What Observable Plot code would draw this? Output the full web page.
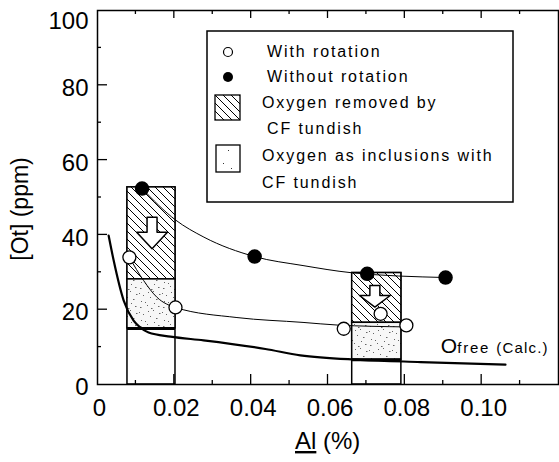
<!DOCTYPE html>
<html><head><meta charset="utf-8">
<script src="https://cdn.jsdelivr.net/npm/d3@7"></script>
<script src="https://cdn.jsdelivr.net/npm/@observablehq/plot@0.6"></script>
<style>
html,body{margin:0;padding:0;background:#fff;}
#chart svg{font-family:"Liberation Sans",Arial,sans-serif;background:#fff;}
</style></head><body><div id="chart"></div>
<script>
// ---- axes ----
const xTicks = [0, 0.02, 0.04, 0.06, 0.08, 0.10];
const xTickLabels = ["0", "0.02", "0.04", "0.06", "0.08", "0.10"];
const xMinorTicks = [0.01, 0.03, 0.05, 0.07, 0.09, 0.11];
const yTicks = [0, 20, 40, 60, 80, 100];
const yMinorTicks = [10, 30, 50, 70, 90];

// ---- measured points ----
const withRotAl = [0.0083, 0.0203, 0.0641, 0.0737, 0.0804];
const withRotOt = [34.0, 20.6, 14.9, 18.9, 15.8];
const withoutRotAl = [0.0116, 0.0409, 0.0702, 0.0906];
const withoutRotOt = [52.4, 34.2, 29.6, 28.6];

// ---- fitted curves ----
const withFitAl = [0.0083, 0.012, 0.0155, 0.0203, 0.0363, 0.0535, 0.0624, 0.0804];
const withFitOt = [34.0, 27.8, 23.3, 20.6, 17.9, 16.6, 15.9, 15.4];
const withoutFitAl = [0.0116, 0.0203, 0.0277, 0.0409, 0.0535, 0.066, 0.0906];
const withoutFitOt = [52.4, 44.0, 39.4, 34.2, 31.8, 29.9, 28.6];
const ofreeAl = [0.0029, 0.0042, 0.0068, 0.0094, 0.0112, 0.0133, 0.019, 0.0276, 0.0437, 0.0528, 0.0684, 0.0841, 0.1062];
const ofreeOt = [39.8, 33.2, 22.5, 17.1, 15.2, 13.9, 12.8, 11.8, 9.5, 7.8, 6.6, 6.0, 5.3];

// ---- CF tundish bars ----
const barAlFrom = [0.0078, 0.0663];
const barAlTo = [0.0203, 0.0791];
const barTotal = [52.7, 29.8];     // without CF tundish top
const barWithCF = [28.1, 16.5];    // boundary hatched / dotted
const barFree = [15.0, 6.6];       // dissolved oxygen level

// ---- arrows (data units) ----
const arrowAl = [0.0142, 0.0722];
const arrowTop = [44.7, 26.5];
const arrowNeck = [40.7, 23.8];
const arrowTip = [36.3, 20.7];
const arrowShaftHalf = 0.0013;
const arrowHeadHalf = 0.004;

const ofreeLabelAl = 0.0895, ofreeLabelOt = 8.3;

// ---- tables ----
const withRot = withRotAl.map((a, i) => ({al: a, ot: withRotOt[i]}));
const withoutRot = withoutRotAl.map((a, i) => ({al: a, ot: withoutRotOt[i]}));
const withFit = withFitAl.map((a, i) => ({al: a, ot: withFitOt[i]}));
const withoutFit = withoutFitAl.map((a, i) => ({al: a, ot: withoutFitOt[i]}));
const ofree = ofreeAl.map((a, i) => ({al: a, ot: ofreeOt[i]}));
const bars = barAlFrom.map((a, i) => ({x1: a, x2: barAlTo[i], top: barTotal[i], mid: barWithCF[i], free: barFree[i]}));
const arrows = [];
arrowAl.forEach((c, i) => {
  const s = arrowShaftHalf, h = arrowHeadHalf;
  [[c - s, arrowTop[i]], [c + s, arrowTop[i]], [c + s, arrowNeck[i]], [c + h, arrowNeck[i]],
   [c, arrowTip[i]], [c - h, arrowNeck[i]], [c - s, arrowNeck[i]], [c - s, arrowTop[i]]]
    .forEach(([x, y]) => arrows.push({id: i, x, y}));
});

const chart = Plot.plot({
  width: 559, height: 462,
  marginLeft: 97, marginRight: 1, marginTop: 10, marginBottom: 78,
  style: {fontFamily: '"Liberation Sans", Arial, sans-serif', background: "#fff"},
  x: {domain: [0, 0.12]},
  y: {domain: [0, 100]},
  marks: [
    Plot.rect(bars, {x1: "x1", x2: "x2", y1: 0, y2: "top", fill: "white", stroke: "black", strokeWidth: 1.5}),
    Plot.rect(bars, {x1: "x1", x2: "x2", y1: "mid", y2: "top", fill: "url(#hatch)", stroke: "black", strokeWidth: 1.5}),
    Plot.rect(bars, {x1: "x1", x2: "x2", y1: "free", y2: "mid", fill: "url(#dots)", stroke: "black", strokeWidth: 1.5}),
    Plot.ruleY(bars, {x1: "x1", x2: "x2", y: "free", stroke: "black", strokeWidth: 3}),
    Plot.line(ofree, {x: "al", y: "ot", curve: "monotone-x", stroke: "black", strokeWidth: 2.2}),
    Plot.line(withFit, {x: "al", y: "ot", curve: "monotone-x", stroke: "black", strokeWidth: 1}),
    Plot.line(withoutFit, {x: "al", y: "ot", curve: "monotone-x", stroke: "black", strokeWidth: 1}),
    Plot.line(arrows, {x: "x", y: "y", z: "id", curve: "linear", fill: "white", stroke: "black", strokeWidth: 1.5}),
    Plot.dot(withRot, {x: "al", y: "ot", r: 6.5, fill: "white", stroke: "black", strokeWidth: 1.3}),
    Plot.dot(withoutRot, {x: "al", y: "ot", r: 6.5, fill: "black", stroke: "black"}),
    Plot.frame({stroke: "black", strokeWidth: 1.5}),
    Plot.axisX({ticks: xTicks, tickFormat: d => xTickLabels[xTicks.indexOf(d)], tickSize: 0, tickPadding: 14, fontSize: 24, dx: 2, label: null}),
    Plot.axisY({ticks: yTicks.slice(0, -1), tickSize: 0, tickPadding: 9, fontSize: 24, dy: 3, label: null}),
    Plot.axisY({ticks: yTicks.slice(-1), tickSize: 0, tickPadding: 9, fontSize: 24, dy: 11, label: null})
  ]
});

const svg = d3.select(chart);
const defs = svg.insert("defs", ":first-child");
const hatch = defs.append("pattern").attr("id", "hatch").attr("patternUnits", "userSpaceOnUse")
  .attr("width", 8).attr("height", 8);
hatch.append("rect").attr("width", 8).attr("height", 8).attr("fill", "white");
hatch.append("path").attr("d", "M-2,-2L10,10M-2,6L2,10M6,-2L10,2").attr("stroke", "black").attr("stroke-width", 1);
const dots = defs.append("pattern").attr("id", "dots").attr("patternUnits", "userSpaceOnUse")
  .attr("width", 23).attr("height", 19);
dots.append("rect").attr("width", 23).attr("height", 19).attr("fill", "#f7f7f7");
[[2,3],[9,1],[15,6],[20,2],[5,10],[12,12],[18,14],[3,16],[10,7],[21,9],[7,17],[16,18],[13,4],[1,8]].forEach(([a, b], i) =>
  dots.append("rect").attr("x", a).attr("y", b).attr("width", i % 3 ? 1 : 1.5).attr("height", 1).attr("fill", "#666"));

const xs = chart.scale("x"), ys = chart.scale("y");
const X = v => xs.apply(v), Y = v => ys.apply(v);
const tg = svg.append("g").attr("stroke", "black").attr("stroke-width", 1.3);
const x0 = X(0), y0 = Y(0), yTop = Y(100);
yTicks.slice(1, -1).forEach(v => tg.append("line").attr("x1", x0).attr("x2", x0 + 10).attr("y1", Y(v)).attr("y2", Y(v)));
yMinorTicks.forEach(v => tg.append("line").attr("x1", x0).attr("x2", x0 + 4).attr("y1", Y(v)).attr("y2", Y(v)));
xTicks.slice(1).forEach(v => {
  tg.append("line").attr("x1", X(v)).attr("x2", X(v)).attr("y1", y0).attr("y2", y0 - 10);
  tg.append("line").attr("x1", X(v)).attr("x2", X(v)).attr("y1", yTop).attr("y2", yTop + 8);
});
xMinorTicks.forEach(v => {
  tg.append("line").attr("x1", X(v)).attr("x2", X(v)).attr("y1", y0).attr("y2", y0 - 4);
  tg.append("line").attr("x1", X(v)).attr("x2", X(v)).attr("y1", yTop).attr("y2", yTop + 4);
});

// axis titles
svg.append("text").attr("transform", "translate(28,209) rotate(-90)").attr("text-anchor", "middle")
  .attr("font-size", 23).attr("fill", "black").text("[Ot] (ppm)");
const xl = svg.append("text").attr("x", 295).attr("y", 449).attr("text-anchor", "start")
  .attr("font-size", 24).attr("fill", "black");
xl.append("tspan").attr("text-decoration", "underline").text("Al");
xl.append("tspan").text(" (%)");

// Ofree label
const ol = svg.append("text").attr("x", X(ofreeLabelAl)).attr("y", Y(ofreeLabelOt)).attr("text-anchor", "start").attr("fill", "black");
ol.append("tspan").attr("font-size", 21).text("O");
ol.append("tspan").attr("font-size", 15).attr("letter-spacing", "1.8px").text("free ");
ol.append("tspan").attr("font-size", 15).attr("letter-spacing", "1.2px").text("(Calc.)");

// legend
const lg = svg.append("g").attr("text-anchor", "start");
lg.append("rect").attr("x", 207).attr("y", 31).attr("width", 306).attr("height", 171)
  .attr("fill", "white").attr("stroke", "black").attr("stroke-width", 1.5);
lg.append("circle").attr("cx", 228).attr("cy", 52).attr("r", 4.5).attr("fill", "white").attr("stroke", "black").attr("stroke-width", 1.2);
lg.append("circle").attr("cx", 228).attr("cy", 77).attr("r", 5).attr("fill", "black");
lg.append("rect").attr("x", 215).attr("y", 95).attr("width", 25).attr("height", 25).attr("fill", "url(#hatch)").attr("stroke", "black").attr("stroke-width", 1.3);
lg.append("rect").attr("x", 216).attr("y", 145).attr("width", 24).attr("height", 27).attr("fill", "white").attr("stroke", "black").attr("stroke-width", 1.3);
[[228,150],[223,163],[231,168]].forEach(([a, b]) => lg.append("rect").attr("x", a).attr("y", b).attr("width", 1).attr("height", 1).attr("fill", "#333"));
const lt = [["With rotation", 267, 57], ["Without rotation", 267, 82], ["Oxygen removed by", 262, 108],
  ["CF tundish", 267, 134], ["Oxygen as inclusions with", 262, 161], ["CF tundish", 262, 188]];
lt.forEach(([t, x, y]) => lg.append("text").attr("x", x).attr("y", y).attr("font-size", 16)
  .attr("text-anchor", "start").attr("letter-spacing", "1.9px").attr("fill", "black").text(t));

document.getElementById("chart").appendChild(chart);
</script></body></html>
